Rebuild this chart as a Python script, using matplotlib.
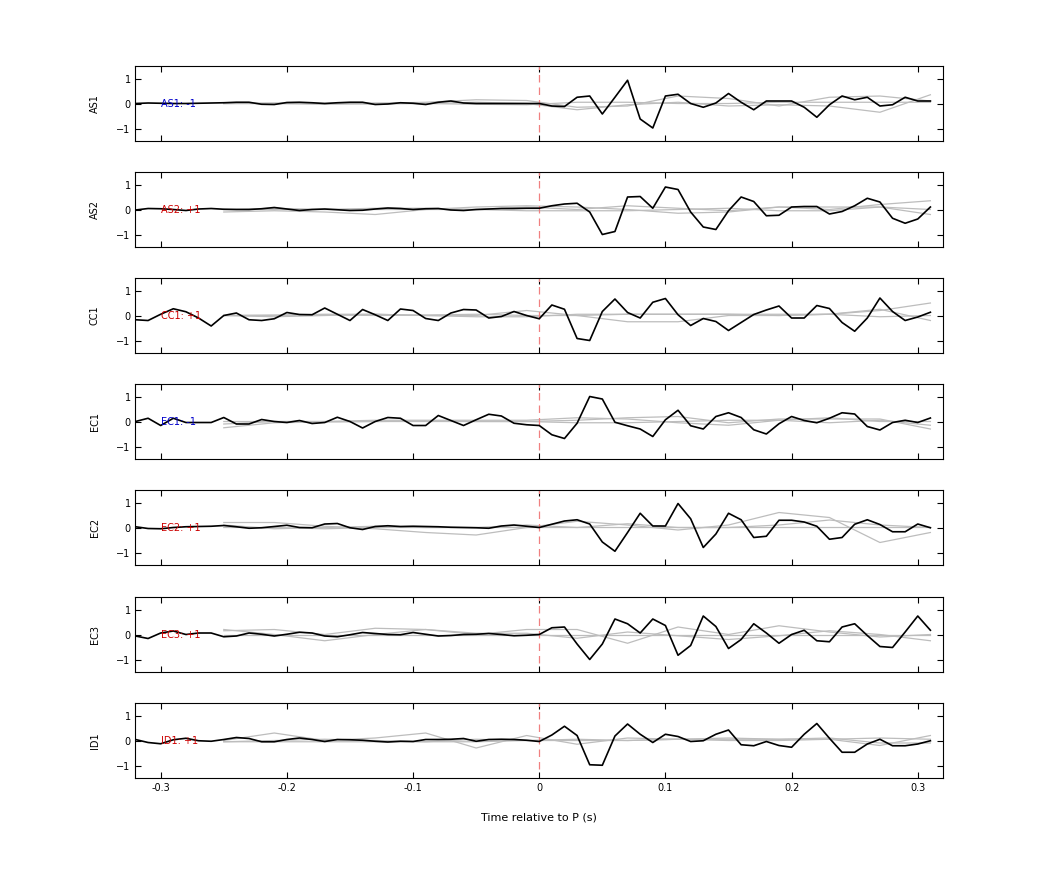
import numpy as np
import matplotlib.pyplot as plt

# time axis of the black traces (s)
t = np.round(np.arange(-0.32, 0.315, 0.01), 2)
# coarse time axis of the grey traces
tg = np.round(np.arange(-0.25, 0.33, 0.04), 2)

stations = ["AS1", "AS2", "CC1", "EC1", "EC2", "EC3", "ID1"]
labels = ["AS1: -1", "AS2: +1", "CC1: +1", "EC1: -1", "EC2: +1", "EC3: +1", "ID1: +1"]
label_colors = ["#0000cc", "#cc0000", "#cc0000", "#0000cc", "#cc0000", "#cc0000", "#cc0000"]

as1 = [0, 0.02, 0.01, 0, 0, 0.01, 0.02, 0.03, 0.05, 0.05, -0.03, -0.04, 0.04, 0.05, 0.03, 0, 0.03,
       0.05, 0.05, -0.04, -0.02, 0.03, 0.01, -0.04, 0.05, 0.1, 0.02, 0, 0, 0, 0, 0,
       0.0, -0.1, -0.12, 0.25, 0.3, -0.42, 0.25, 0.93, -0.62, -0.98, 0.3, 0.37, 0.0, -0.15, 0.02, 0.4,
       0.05, -0.25, 0.1, 0.1, 0.1, -0.15, -0.55, -0.05, 0.3, 0.15, 0.25, -0.1, -0.05, 0.25, 0.1, 0.1]
as2 = [-0.02, 0.04, 0.03, 0, -0.04, 0.02, 0.04, 0.01, 0, 0, 0.03, 0.08, 0.02, -0.04, 0, 0.02, -0.01,
       -0.04, -0.03, 0.02, 0.06, 0.04, 0, 0.03, 0.04, -0.02, -0.04, 0, 0.02, 0.04, 0.04, 0.05,
       0.05, 0.15, 0.22, 0.25, -0.1, -1.0, -0.88, 0.5, 0.52, 0.05, 0.9, 0.8, -0.1, -0.7, -0.8, -0.05,
       0.5, 0.32, -0.25, -0.23, 0.1, 0.12, 0.12, -0.18, -0.08, 0.15, 0.45, 0.3, -0.35, -0.55, -0.38, 0.1]
cc1 = [-0.17, -0.2, 0.05, 0.27, 0.15, -0.1, -0.42, 0.0, 0.1, -0.17, -0.2, -0.13, 0.12, 0.04, 0.03, 0.3,
       0.05, -0.2, 0.24, 0.03, -0.2, 0.26, 0.2, -0.12, -0.2, 0.1, 0.24, 0.22, -0.1, -0.04, 0.16, 0.0,
       -0.13, 0.42, 0.25, -0.92, -1.0, 0.16, 0.66, 0.12, -0.1, 0.53, 0.68, 0.03, -0.4, -0.12, -0.24, -0.6,
       -0.28, 0.04, 0.22, 0.38, -0.1, -0.1, 0.4, 0.28, -0.28, -0.63, -0.1, 0.7, 0.16, -0.2, -0.06, 0.13]
ec1 = [0.0, 0.13, -0.16, 0.13, -0.04, -0.04, -0.04, 0.16, -0.1, -0.1, 0.08, 0.0, -0.04, 0.04, -0.08,
       -0.04, 0.17, 0.0, -0.26, 0.0, 0.16, 0.13, -0.16, -0.16, 0.24, 0.04, -0.16, 0.07, 0.29, 0.22,
       -0.07, -0.13, -0.16, -0.53, -0.68, -0.07, 1.0, 0.9, -0.03, -0.17, -0.3, -0.6, 0.07, 0.45, -0.17,
       -0.3, 0.2, 0.35, 0.16, -0.33, -0.5, -0.09, 0.2, 0.04, -0.05, 0.13, 0.35, 0.3, -0.2, -0.34, -0.04,
       0.05, -0.04, 0.14]
ec2 = [0.03, -0.04, -0.05, 0.0, 0.03, 0.04, 0.05, 0.08, 0.03, -0.03, -0.01, 0.04, 0.09, 0.0, -0.01,
       0.14, 0.16, -0.01, -0.08, 0.04, 0.07, 0.04, 0.05, 0.04, 0.03, 0.01, 0.0, -0.01, -0.03, 0.06,
       0.1, 0.05, 0.0, 0.13, 0.26, 0.31, 0.14, -0.58, -0.95, -0.2, 0.57, 0.06, 0.06, 0.96, 0.35, -0.8,
       -0.26, 0.57, 0.31, -0.4, -0.35, 0.29, 0.29, 0.22, 0.05, -0.47, -0.4, 0.13, 0.31, 0.12, -0.17,
       -0.17, 0.14, -0.01]
ec3 = [-0.06, -0.16, 0.06, 0.14, 0.0, 0.06, 0.06, -0.09, -0.06, 0.06, 0.01, -0.06, 0.01, 0.09, 0.06,
       -0.06, -0.09, -0.01, 0.08, 0.04, 0.0, -0.01, 0.08, 0.01, -0.06, -0.04, 0.0, 0.01, 0.04, 0.0,
       -0.05, -0.03, 0.0, 0.27, 0.3, -0.38, -1.0, -0.38, 0.62, 0.43, 0.06, 0.62, 0.36, -0.83, -0.44,
       0.74, 0.32, -0.56, -0.2, 0.43, 0.06, -0.35, 0.0, 0.17, -0.25, -0.29, 0.3, 0.43, -0.04, -0.48,
       -0.52, 0.1, 0.74, 0.17]
id1 = [0.04, -0.08, -0.13, 0.03, 0.09, -0.01, -0.03, 0.04, 0.12, 0.08, -0.05, -0.05, 0.04, 0.1, 0.04,
       -0.04, 0.04, 0.03, 0.01, -0.03, -0.06, -0.03, -0.04, 0.04, 0.04, 0.05, 0.08, -0.03, 0.04, 0.05,
       0.04, 0.01, -0.04, 0.22, 0.57, 0.2, -0.97, -0.99, 0.18, 0.66, 0.25, -0.08, 0.25, 0.16, -0.04,
       -0.01, 0.25, 0.42, -0.17, -0.21, -0.04, -0.2, -0.27, 0.25, 0.68, 0.09, -0.47, -0.47, -0.14,
       0.05, -0.21, -0.21, -0.14, -0.01]
traces = [as1, as2, cc1, ec1, ec2, ec3, id1]

# grey comparison traces, sampled on tg
grey = [
    [[0, 0, -0.03, 0, 0.05, 0.15, 0.12, -0.15, -0.1, 0.3, 0.2, -0.1, 0.25, 0.3, 0.1],
     [0, 0.02, 0, -0.02, 0.0, 0.05, 0.0, -0.25, -0.05, 0.05, -0.1, -0.05, -0.1, -0.35, 0.35],
     [0, 0, 0, 0.02, 0, -0.03, -0.05, 0.05, 0.05, 0.0, 0.0, 0.05, 0.05, 0.05, 0.05]],
    [[-0.1, -0.05, -0.1, -0.2, 0.0, 0.1, 0.15, 0.1, 0.0, -0.15, -0.1, 0.1, 0.0, 0.2, 0.35],
     [0, 0.05, 0.0, 0.05, 0.05, 0.0, 0.1, 0.0, 0.15, 0.05, -0.05, 0.1, 0.1, 0.1, 0.0],
     [0, 0, 0, 0, 0, 0, -0.05, -0.05, -0.05, 0.0, 0.05, -0.05, -0.05, 0.1, -0.2]],
    [[0, 0.02, 0.05, 0.05, 0.0, 0.0, 0.2, 0.0, -0.25, -0.25, 0.0, 0.0, 0.05, 0.2, 0.5],
     [0, -0.05, 0.0, 0.05, 0.0, -0.05, -0.05, 0.05, 0.05, 0.05, 0.05, 0.0, 0.05, 0.25, -0.2],
     [0, 0, 0.03, 0.0, 0.02, 0.05, 0.0, 0.0, 0.05, 0.05, 0.05, 0.05, 0.05, -0.05, 0.0]],
    [[-0.25, -0.05, -0.02, 0.0, 0.02, 0.0, 0.0, 0.05, 0.15, 0.2, -0.05, 0.1, 0.1, 0.1, -0.3],
     [-0.1, 0.0, 0.0, 0.05, 0.05, 0.05, 0.05, 0.15, 0.1, -0.05, -0.15, 0.05, 0.15, 0.0, 0.0],
     [0, 0, 0, 0, 0, 0, 0, -0.05, -0.05, 0.0, 0.05, 0.05, -0.05, 0.05, -0.15]],
    [[0.2, 0.2, 0.05, -0.05, -0.2, -0.3, 0.0, 0.25, 0.1, -0.1, 0.1, 0.6, 0.4, -0.6, -0.2],
     [0.1, -0.05, 0.0, 0.05, 0.0, 0.0, 0.1, 0.0, 0.15, 0.0, 0.0, 0.1, 0.3, 0.1, 0.0],
     [0, 0, -0.05, 0, 0, 0, 0, 0, 0, 0, 0, 0, 0, 0, 0]],
    [[0.15, 0.2, 0.0, 0.25, 0.2, 0.0, 0.2, 0.2, -0.35, 0.3, 0.0, 0.35, 0.1, -0.1, 0.0],
     [0.2, 0.0, -0.25, 0.0, 0.2, 0.05, 0.05, -0.15, 0.1, -0.05, -0.2, -0.05, 0.15, 0.0, -0.25],
     [0, 0, 0, 0, 0, 0, 0, 0, 0, 0, 0, 0, 0, 0, 0]],
    [[0.0, 0.3, 0.0, 0.1, 0.3, -0.3, 0.2, -0.15, 0.1, 0.05, 0.0, 0.0, 0.05, -0.2, 0.2],
     [-0.05, 0.0, 0.05, 0.0, -0.05, 0.05, 0.0, 0.05, 0.0, 0.05, 0.1, 0.05, 0.1, -0.1, -0.1],
     [-0.05, -0.05, -0.05, -0.05, -0.05, -0.05, 0.0, 0.0, 0.0, 0.05, 0.05, 0.05, 0.05, 0.1, 0.05]],
]

fig = plt.figure(figsize=(10.42, 8.75), dpi=100)
left, width, height = 0.13, 0.775, 0.0857
tops = [66, 172, 278, 384, 490, 597, 703]

for i, st in enumerate(stations):
    ax = fig.add_axes([left, 1 - (tops[i] + 75) / 875, width, height])
    for g in grey[i]:
        ax.plot(tg, g, color="#bdbdbd", lw=0.9)
    ax.axvline(0, ymin=0.12, color="#f08080", lw=0.9, dashes=(6, 4))
    ax.plot(t, traces[i], color="black", lw=1.2)
    ax.text(-0.3, 0, labels[i], color=label_colors[i], fontsize=7, va="center")
    ax.set_xlim(-0.32, 0.32)
    ax.set_ylim(-1.5, 1.5)
    ax.set_yticks([-1, 0, 1])
    ax.set_xticks([-0.3, -0.2, -0.1, 0, 0.1, 0.2, 0.3])
    ax.tick_params(direction="in", top=True, right=True, labelsize=7, length=4, width=0.8)
    ax.set_ylabel(st, fontsize=7, labelpad=12)
    if i < len(stations) - 1:
        ax.set_xticklabels([])
    else:
        ax.set_xticklabels(["-0.3", "-0.2", "-0.1", "0", "0.1", "0.2", "0.3"])
        ax.set_xlabel("Time relative to P (s)", fontsize=8, labelpad=14)

plt.savefig("out.png", dpi=100)
